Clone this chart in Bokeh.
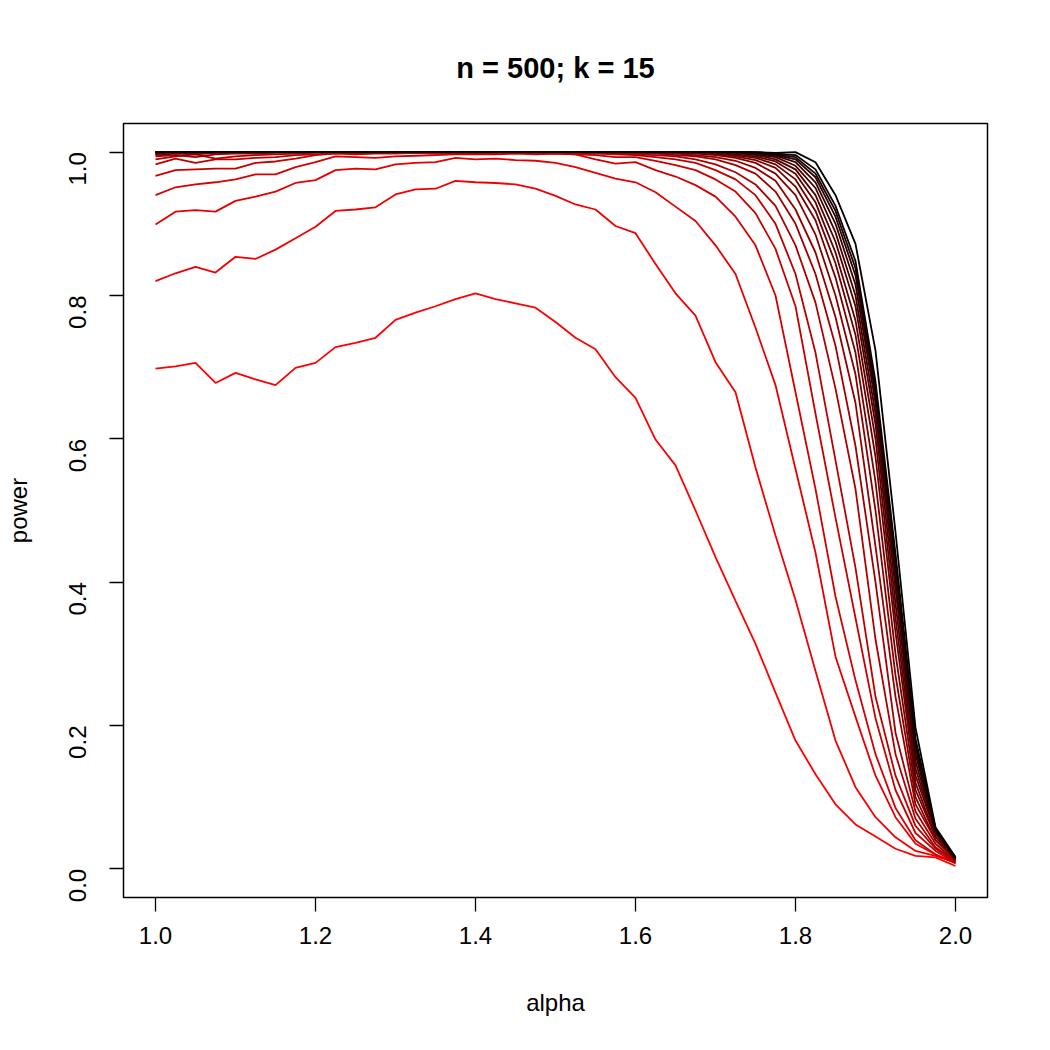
import math
from bokeh.plotting import figure
from bokeh.models import Range1d, FixedTicker
from bokeh.embed import file_html
from bokeh.resources import INLINE

# alpha grid
alpha = [1.000, 1.025, 1.050, 1.075, 1.100, 1.125, 1.150, 1.175, 1.200, 1.225,
         1.250, 1.275, 1.300, 1.325, 1.350, 1.375, 1.400, 1.425, 1.450, 1.475,
         1.500, 1.525, 1.550, 1.575, 1.600, 1.625, 1.650, 1.675, 1.700, 1.725,
         1.750, 1.775, 1.800, 1.825, 1.850, 1.875, 1.900, 1.925, 1.950, 1.975,
         2.000]

# estimated power, one series per curve (red -> black)
power_01 = [0.698, 0.701, 0.706, 0.678, 0.692, 0.683, 0.675, 0.699, 0.706, 0.728,
            0.734, 0.741, 0.766, 0.776, 0.785, 0.795, 0.803, 0.795, 0.789, 0.783,
            0.763, 0.741, 0.725, 0.686, 0.657, 0.599, 0.563, 0.500, 0.435, 0.374,
            0.314, 0.246, 0.179, 0.132, 0.090, 0.062, 0.045, 0.028, 0.018, 0.016,
            0.004]
power_02 = [0.820, 0.831, 0.840, 0.832, 0.854, 0.851, 0.864, 0.880, 0.896, 0.918,
            0.920, 0.923, 0.941, 0.948, 0.949, 0.960, 0.958, 0.957, 0.955, 0.949,
            0.939, 0.927, 0.920, 0.897, 0.887, 0.844, 0.803, 0.772, 0.707, 0.665,
            0.560, 0.465, 0.375, 0.276, 0.179, 0.114, 0.072, 0.044, 0.025, 0.018,
            0.009]
power_03 = [0.899, 0.917, 0.919, 0.917, 0.932, 0.938, 0.945, 0.957, 0.961, 0.975,
            0.977, 0.976, 0.983, 0.985, 0.986, 0.992, 0.990, 0.991, 0.989, 0.988,
            0.985, 0.979, 0.971, 0.963, 0.958, 0.944, 0.924, 0.904, 0.870, 0.830,
            0.755, 0.675, 0.558, 0.441, 0.296, 0.212, 0.130, 0.072, 0.035, 0.020,
            0.008]
power_04 = [0.940, 0.951, 0.955, 0.958, 0.962, 0.969, 0.969, 0.979, 0.986, 0.994,
            0.993, 0.992, 0.994, 0.995, 0.996, 0.997, 0.997, 0.997, 0.998, 0.997,
            0.998, 0.997, 0.990, 0.984, 0.986, 0.975, 0.966, 0.954, 0.938, 0.910,
            0.870, 0.800, 0.665, 0.530, 0.380, 0.263, 0.160, 0.085, 0.040, 0.020,
            0.008]
power_05 = [0.967, 0.975, 0.976, 0.977, 0.977, 0.985, 0.987, 0.991, 0.996, 0.998,
            0.997, 0.998, 0.998, 0.999, 0.998, 0.999, 0.999, 0.998, 0.999, 0.998,
            0.998, 0.997, 0.996, 0.993, 0.993, 0.988, 0.982, 0.975, 0.962, 0.945,
            0.915, 0.865, 0.785, 0.635, 0.490, 0.350, 0.210, 0.110, 0.050, 0.025,
            0.008]
power_06 = [0.983, 0.991, 0.985, 0.990, 0.990, 0.992, 0.993, 0.996, 0.997, 0.999,
            0.998, 0.999, 0.999, 0.999, 1.000, 0.999, 0.999, 1.000, 0.999, 0.999,
            0.999, 0.998, 0.998, 0.997, 0.996, 0.993, 0.990, 0.985, 0.975, 0.962,
            0.940, 0.900, 0.830, 0.720, 0.570, 0.420, 0.240, 0.130, 0.060, 0.028,
            0.010]
power_07 = [0.990, 0.994, 0.997, 0.991, 0.994, 0.996, 0.997, 0.998, 0.999, 1.000,
            0.999, 1.000, 0.999, 1.000, 1.000, 0.999, 1.000, 1.000, 0.999, 1.000,
            1.000, 0.999, 0.999, 0.998, 0.997, 0.996, 0.994, 0.990, 0.983, 0.972,
            0.955, 0.925, 0.870, 0.790, 0.670, 0.530, 0.320, 0.160, 0.070, 0.030,
            0.010]
power_08 = [0.994, 0.996, 0.993, 0.997, 0.998, 0.998, 0.999, 0.999, 1.000, 1.000,
            1.000, 0.999, 1.000, 1.000, 1.000, 1.000, 0.999, 1.000, 1.000, 1.000,
            1.000, 1.000, 0.999, 0.999, 0.999, 0.998, 0.996, 0.994, 0.990, 0.982,
            0.970, 0.945, 0.900, 0.830, 0.730, 0.590, 0.400, 0.190, 0.080, 0.035,
            0.010]
power_09 = [0.996, 0.998, 0.997, 0.999, 0.999, 0.999, 1.000, 1.000, 1.000, 1.000,
            1.000, 1.000, 1.000, 1.000, 1.000, 1.000, 1.000, 1.000, 1.000, 1.000,
            1.000, 1.000, 1.000, 0.999, 0.999, 0.999, 0.998, 0.996, 0.993, 0.988,
            0.978, 0.960, 0.920, 0.860, 0.770, 0.650, 0.450, 0.240, 0.090, 0.040,
            0.012]
power_10 = [0.997, 0.999, 0.998, 0.999, 1.000, 1.000, 1.000, 1.000, 1.000, 1.000,
            1.000, 1.000, 1.000, 1.000, 1.000, 1.000, 1.000, 1.000, 1.000, 1.000,
            1.000, 1.000, 1.000, 1.000, 1.000, 0.999, 0.999, 0.998, 0.996, 0.992,
            0.985, 0.970, 0.940, 0.885, 0.800, 0.690, 0.500, 0.270, 0.100, 0.040,
            0.012]
power_11 = [0.998, 0.999, 0.999, 1.000, 1.000, 1.000, 1.000, 1.000, 1.000, 1.000,
            1.000, 1.000, 1.000, 1.000, 1.000, 1.000, 1.000, 1.000, 1.000, 1.000,
            1.000, 1.000, 1.000, 1.000, 1.000, 1.000, 0.999, 0.999, 0.997, 0.994,
            0.989, 0.978, 0.952, 0.905, 0.825, 0.720, 0.540, 0.300, 0.110, 0.045,
            0.012]
power_12 = [0.999, 0.999, 1.000, 1.000, 1.000, 1.000, 1.000, 1.000, 1.000, 1.000,
            1.000, 1.000, 1.000, 1.000, 1.000, 1.000, 1.000, 1.000, 1.000, 1.000,
            1.000, 1.000, 1.000, 1.000, 1.000, 1.000, 1.000, 0.999, 0.998, 0.996,
            0.992, 0.983, 0.962, 0.918, 0.845, 0.745, 0.575, 0.330, 0.120, 0.045,
            0.013]
power_13 = [0.999, 1.000, 1.000, 1.000, 1.000, 1.000, 1.000, 1.000, 1.000, 1.000,
            1.000, 1.000, 1.000, 1.000, 1.000, 1.000, 1.000, 1.000, 1.000, 1.000,
            1.000, 1.000, 1.000, 1.000, 1.000, 1.000, 1.000, 1.000, 0.999, 0.997,
            0.994, 0.987, 0.970, 0.930, 0.860, 0.765, 0.600, 0.350, 0.130, 0.050,
            0.013]
power_14 = [1.000, 1.000, 1.000, 1.000, 1.000, 1.000, 1.000, 1.000, 1.000, 1.000,
            1.000, 1.000, 1.000, 1.000, 1.000, 1.000, 1.000, 1.000, 1.000, 1.000,
            1.000, 1.000, 1.000, 1.000, 1.000, 1.000, 1.000, 1.000, 1.000, 0.999,
            0.996, 0.990, 0.976, 0.940, 0.875, 0.785, 0.620, 0.370, 0.140, 0.050,
            0.014]
power_15 = [1.000, 1.000, 1.000, 1.000, 1.000, 1.000, 1.000, 1.000, 1.000, 1.000,
            1.000, 1.000, 1.000, 1.000, 1.000, 1.000, 1.000, 1.000, 1.000, 1.000,
            1.000, 1.000, 1.000, 1.000, 1.000, 1.000, 1.000, 1.000, 1.000, 0.999,
            0.997, 0.993, 0.981, 0.950, 0.888, 0.800, 0.635, 0.390, 0.150, 0.052,
            0.014]
power_16 = [1.000, 1.000, 1.000, 1.000, 1.000, 1.000, 1.000, 1.000, 1.000, 1.000,
            1.000, 1.000, 1.000, 1.000, 1.000, 1.000, 1.000, 1.000, 1.000, 1.000,
            1.000, 1.000, 1.000, 1.000, 1.000, 1.000, 1.000, 1.000, 1.000, 1.000,
            0.998, 0.995, 0.986, 0.958, 0.900, 0.815, 0.650, 0.405, 0.160, 0.053,
            0.015]
power_17 = [1.000, 1.000, 1.000, 1.000, 1.000, 1.000, 1.000, 1.000, 1.000, 1.000,
            1.000, 1.000, 1.000, 1.000, 1.000, 1.000, 1.000, 1.000, 1.000, 1.000,
            1.000, 1.000, 1.000, 1.000, 1.000, 1.000, 1.000, 1.000, 1.000, 1.000,
            0.999, 0.996, 0.990, 0.965, 0.910, 0.828, 0.660, 0.420, 0.168, 0.054,
            0.015]
power_18 = [1.000, 1.000, 1.000, 1.000, 1.000, 1.000, 1.000, 1.000, 1.000, 1.000,
            1.000, 1.000, 1.000, 1.000, 1.000, 1.000, 1.000, 1.000, 1.000, 1.000,
            1.000, 1.000, 1.000, 1.000, 1.000, 1.000, 1.000, 1.000, 1.000, 1.000,
            0.999, 0.997, 0.993, 0.970, 0.918, 0.838, 0.670, 0.430, 0.175, 0.055,
            0.015]
power_19 = [1.000, 1.000, 1.000, 1.000, 1.000, 1.000, 1.000, 1.000, 1.000, 1.000,
            1.000, 1.000, 1.000, 1.000, 1.000, 1.000, 1.000, 1.000, 1.000, 1.000,
            1.000, 1.000, 1.000, 1.000, 1.000, 1.000, 1.000, 1.000, 1.000, 1.000,
            1.000, 0.998, 0.996, 0.976, 0.925, 0.848, 0.680, 0.440, 0.182, 0.056,
            0.016]
power_20 = [1.000, 1.000, 1.000, 1.000, 1.000, 1.000, 1.000, 1.000, 1.000, 1.000,
            1.000, 1.000, 1.000, 1.000, 1.000, 1.000, 1.000, 1.000, 1.000, 1.000,
            1.000, 1.000, 1.000, 1.000, 1.000, 1.000, 1.000, 1.000, 1.000, 1.000,
            1.000, 0.999, 1.000, 0.986, 0.940, 0.872, 0.723, 0.470, 0.197, 0.058,
            0.016]

series = [power_01, power_02, power_03, power_04, power_05, power_06, power_07,
          power_08, power_09, power_10, power_11, power_12, power_13, power_14,
          power_15, power_16, power_17, power_18, power_19, power_20]

x_ticks = [1.0, 1.2, 1.4, 1.6, 1.8, 2.0]
y_ticks = [0.0, 0.2, 0.4, 0.6, 0.8, 1.0]

FONT = "Liberation Sans"

p = figure(width=1050, height=1050, output_backend="svg", toolbar_location=None,
           x_range=Range1d(0.96, 2.04), y_range=Range1d(-0.04, 1.04),
           min_border_left=123, min_border_right=63,
           min_border_top=123, min_border_bottom=153,
           title="n = 500; k = 15")

p.background_fill_color = "white"
p.border_fill_color = "white"
p.outline_line_color = "black"
p.outline_line_width = 1.5
p.xgrid.visible = False
p.ygrid.visible = False

p.title.align = "center"
p.title.text_font = FONT
p.title.text_font_style = "bold"
p.title.text_font_size = "29px"
p.title.text_color = "black"
p.title.standoff = 79

# red -> black ramp
n = len(series)
for i, ys in enumerate(series):
    r = int(round(255 * (1 - i / (n - 1))))
    color = "#%02x0000" % r
    p.line(alpha, ys, line_color=color, line_width=1.8)

for ax in (p.xaxis[0], p.yaxis[0]):
    ax.axis_line_color = None
    ax.major_tick_line_color = "black"
    ax.major_tick_line_width = 1.3
    ax.major_tick_out = 14
    ax.major_tick_in = 0
    ax.minor_tick_line_color = None
    ax.major_label_text_font = FONT
    ax.major_label_text_font_size = "24px"
    ax.major_label_text_color = "black"
    ax.axis_label_text_font = FONT
    ax.axis_label_text_font_size = "24px"
    ax.axis_label_text_font_style = "normal"
    ax.axis_label_text_color = "black"

p.xaxis.ticker = FixedTicker(ticks=x_ticks)
p.yaxis.ticker = FixedTicker(ticks=y_ticks)
p.xaxis.major_label_overrides = {t: "%.1f" % t for t in x_ticks}
p.yaxis.major_label_overrides = {t: "%.1f" % t for t in y_ticks}
p.yaxis.major_label_orientation = math.pi / 2

p.xaxis.axis_label = "alpha"
p.yaxis.axis_label = "power"
p.xaxis.major_label_standoff = 15
p.yaxis.major_label_standoff = 32
p.xaxis.axis_label_standoff = 42
p.yaxis.axis_label_standoff = 26

open("out.html", "w").write(file_html(p, INLINE))
